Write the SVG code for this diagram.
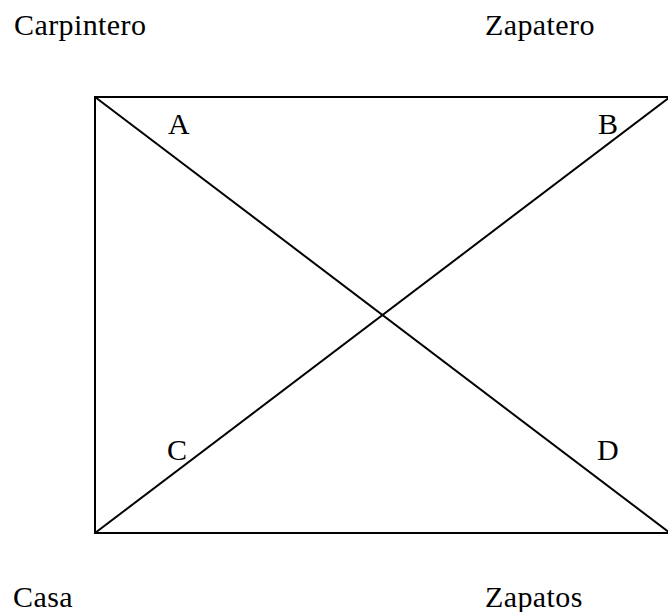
<svg xmlns="http://www.w3.org/2000/svg" width="668" height="612" viewBox="0 0 668 612">
<style>
.t{font-family:"Liberation Serif","Times New Roman",serif;font-size:30px;letter-spacing:0.4px;fill:#000}
.l{stroke:#000;stroke-width:2;fill:none}
</style>
<rect width="668" height="612" fill="#fff"/>
<g id="connectors">
<rect class="l" x="95" y="97" width="576" height="436"/>
<line class="l" x1="95" y1="97" x2="670" y2="533"/>
<line class="l" x1="95" y1="533" x2="670" y2="97"/>
</g>
<g id="carpintero"><text class="t" x="14" y="35">Carpintero</text></g>
<g id="zapatero"><text class="t" x="485" y="35">Zapatero</text></g>
<g id="casa"><text class="t" x="13" y="607">Casa</text></g>
<g id="zapatos"><text class="t" x="485" y="607">Zapatos</text></g>
<g id="a"><text class="t" x="168" y="134">A</text></g>
<g id="b"><text class="t" x="598" y="134">B</text></g>
<g id="c"><text class="t" x="167" y="460">C</text></g>
<g id="d"><text class="t" x="597" y="460">D</text></g>
</svg>
